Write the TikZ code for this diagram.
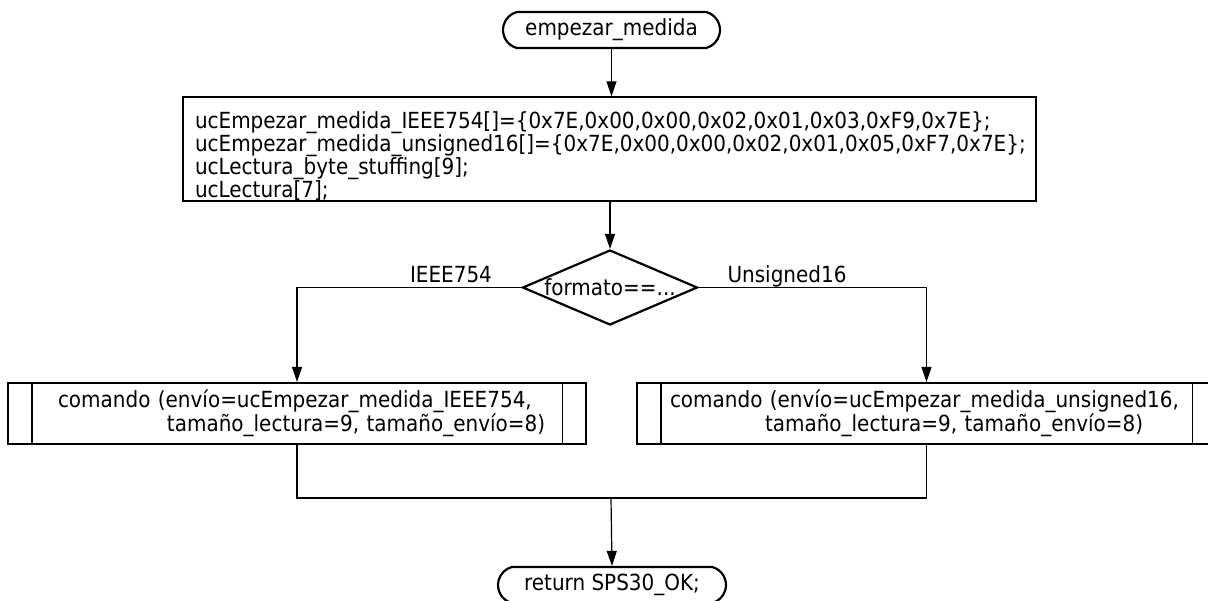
\documentclass[tikz,border=0pt]{standalone}
\usepackage{fontspec}
\setmainfont{DejaVu Sans}[FakeStretch=0.9]
\usetikzlibrary{shapes.misc,shapes.geometric,arrows.meta}

\tikzset{
  term/.style={rounded rectangle, rounded rectangle arc length=150, draw, line width=2.2pt,
    minimum height=36pt, inner sep=0pt},
  procbox/.style={rectangle, draw, line width=2.2pt, inner sep=0pt},
  subbox/.style={rectangle, draw, line width=2.2pt, inner ysep=0pt, align=left,
    minimum height=61pt},
  decision/.style={diamond, draw, line width=2.2pt, inner sep=0pt,
    minimum width=175pt, minimum height=75pt},
  flow/.style={line width=1.2pt},
  arr/.style={flow, -{Triangle[length=15pt,width=10pt]}},
  branch/.style={inner sep=0pt, anchor=base},
}

\begin{document}
\begin{tikzpicture}[x=1pt, y=-1pt, font=\fontsize{22.2}{16.5}\selectfont]
\useasboundingbox (0,0) rectangle (1208,600);
\begin{scope}
\clip (0,0) rectangle (1208,600);

% start terminal
\node[term, minimum width=217pt] (start) at (611.5,30) {empezar\_medida};

% buffer declarations (the strut lowers the block a little inside the box)
\node[procbox, minimum width=853pt, minimum height=102pt, text width=829pt, align=left]
  (init) at (609.5,149) {%
\rule{0pt}{31pt}ucEmpezar\_medida\_IEEE754[]=\{0x7E,0x00,0x00,0x02,0x01,0x03,0xF9,0x7E\};\\
ucEmpezar\_medida\_unsigned16[]=\{0x7E,0x00,0x00,0x02,0x01,0x05,0xF7,0x7E\};\\
ucLectura\_byte\_stuffing[9];\\
ucLectura[7];};

% format choice
\node[decision, label=center:{formato==...}] (dec) at (610,287.5) {};

% command calls
\node[subbox, minimum width=578pt, inner xsep=50pt, text width=478pt] (lbox) at (297,413.5) {%
\mbox{comando (envío=ucEmpezar\_medida\_IEEE754,}\\
\mbox{\hspace*{109pt}tamaño\_lectura=9, tamaño\_envío=8)}};
\node[subbox, minimum width=579pt, inner xsep=33pt, text width=513pt] (rbox) at (926.5,413.5) {%
\mbox{comando (envío=ucEmpezar\_medida\_unsigned16,}\\
\mbox{\hspace*{95pt}tamaño\_lectura=9, tamaño\_envío=8)}};
\draw[flow] ([xshift=25pt]lbox.north west) -- ([xshift=25pt]lbox.south west);
\draw[flow] ([xshift=-25pt]lbox.north east) -- ([xshift=-25pt]lbox.south east);
\draw[flow] ([xshift=25pt]rbox.north west) -- ([xshift=25pt]rbox.south west);
\draw[flow] ([xshift=-25pt]rbox.north east) -- ([xshift=-25pt]rbox.south east);

% end terminal
\node[term, minimum width=228pt] (stop) at (612,585) {return SPS30\_OK;};

% connectors
\coordinate (join) at (611,498);
\draw[arr] (start.south) -- (start.south |- init.north);
\draw[arr] (init.south -| dec.north) -- (dec.north);
\draw[arr] (dec.west) -| (lbox.north);
\draw[arr] (dec.east) -| (rbox.north);
\node[branch] (lblA) at (451,282) {IEEE754};
\node[branch] (lblB) at (787,282) {Unsigned16};
\draw[flow] (lbox.south) |- (join);
\draw[flow] (rbox.south) |- (join);
\draw[arr] (join) -- (stop.north);
\end{scope}
\end{tikzpicture}
\end{document}
